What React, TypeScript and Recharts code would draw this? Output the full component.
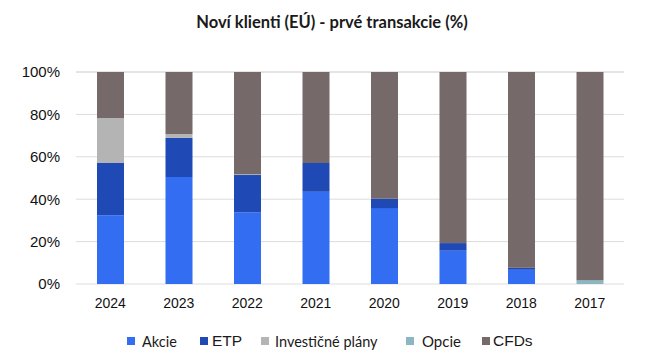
import { BarChart, Bar, XAxis, YAxis, CartesianGrid } from 'recharts'

const years = ['2024', '2023', '2022', '2021', '2020', '2019', '2018', '2017']
const akcie = [32.4, 50.5, 33.8, 43.5, 35.8, 15.7, 6.7, 0]
const etp = [24.7, 18.4, 17.6, 13.6, 4.4, 3.6, 1.0, 0]
const investicne = [21.2, 1.9, 0.4, 0, 0, 0, 0, 0]
const opcie = [0, 0, 0, 0, 0, 0, 0, 1.8]
const cfds = [21.7, 29.2, 48.2, 42.9, 59.8, 80.7, 92.3, 98.2]
const yTicks = [0, 20, 40, 60, 80, 100]

const series = [
  { key: 'akcie', name: 'Akcie', color: '#336df2', values: akcie },
  { key: 'etp', name: 'ETP', color: '#1f4ab5', values: etp },
  { key: 'investicne', name: 'Investičné plány', color: '#b4b4b4', values: investicne },
  { key: 'opcie', name: 'Opcie', color: '#8cb6c2', values: opcie },
  { key: 'cfds', name: 'CFDs', color: '#756969', values: cfds },
]

const data = years.map((year, i) => {
  const row: Record<string, string | number> = { year }
  series.forEach((s) => { row[s.key] = s.values[i] })
  return row
})

// legend placement tweaks to match the uneven spacing in the original
const legendLeft = [127, 200, 261, 406, 482]
const legendFont = ['Lato', 'Liberation Sans', 'Lato', 'Lato', 'Liberation Sans']
const legendSize = [14.5, 15.5, 14.5, 15, 15.5]
const legendGap = [7, 4, 6, 8, 3]

export default function App() {
  return (
    <div style={{ position: 'relative', width: 655, height: 362, margin: -8, background: '#fff' }}>
      <div
        style={{
          position: 'absolute', top: 12, left: 0, width: 664, textAlign: 'center',
          fontFamily: 'Lato', fontWeight: 700, fontSize: 16.5, color: '#1a1a1a',
        }}
      >
        Noví klienti (EÚ) - prvé transakcie (%)
      </div>

      <BarChart
        width={655}
        height={362}
        data={data}
        margin={{ top: 72, right: 31, left: 0, bottom: 48 }}
        barCategoryGap={0}
      >
        <CartesianGrid vertical={false} stroke="#dcdcdc" />
        <XAxis
          dataKey="year"
          axisLine={false}
          tickLine={false}
          tick={{ fontSize: 14, fill: '#111', fontFamily: 'Liberation Sans' }}
          tickMargin={8}
        />
        <YAxis
          width={76}
          domain={[0, 100]}
          ticks={yTicks}
          axisLine={false}
          tickLine={false}
          tickFormatter={(v) => `${v}%`}
          tick={{ fontSize: 15, fill: '#111', fontFamily: 'Liberation Sans' }}
          tickMargin={10}
        />
        {series.map((s) => (
          <Bar
            key={s.key}
            dataKey={s.key}
            name={s.name}
            stackId="a"
            fill={s.color}
            barSize={27}
            isAnimationActive={false}
          />
        ))}
      </BarChart>

      {series.map((s, i) => (
        <div
          key={s.key}
          style={{
            position: 'absolute', top: 331, left: legendLeft[i], height: 20,
            display: 'flex', alignItems: 'center', gap: legendGap[i],
          }}
        >
          <span style={{ width: 8, height: 8, background: s.color, display: 'inline-block' }} />
          <span style={{ fontFamily: legendFont[i], fontSize: legendSize[i], color: '#1a1a1a' }}>{s.name}</span>
        </div>
      ))}
    </div>
  )
}
